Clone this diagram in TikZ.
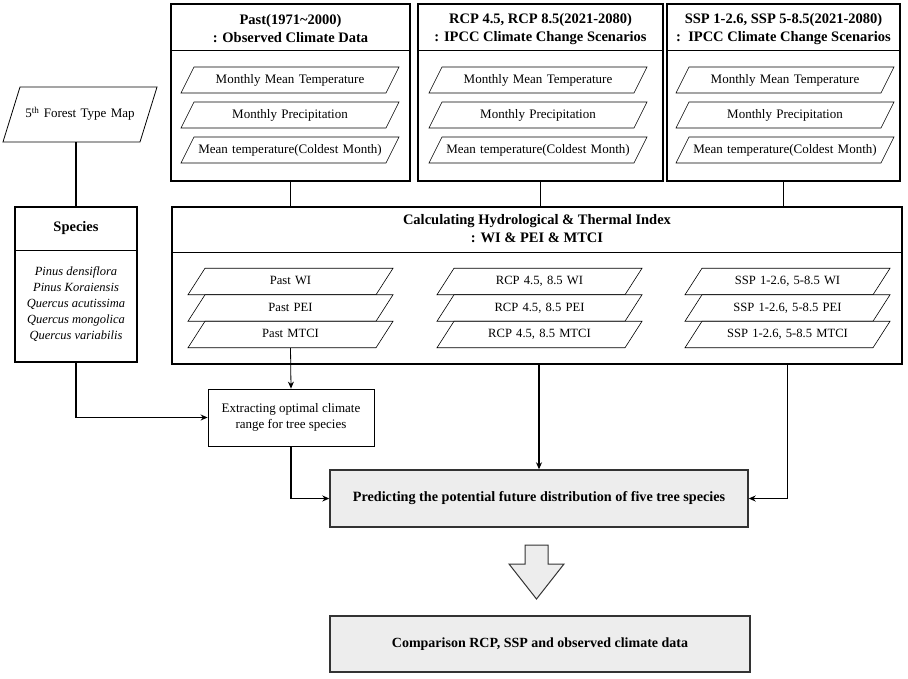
\documentclass[tikz,border=0pt]{standalone}
\usepackage{fontspec}
\setmainfont{Liberation Serif}
\usetikzlibrary{shapes.geometric,arrows.meta}

\tikzset{
  panel/.style={draw, line width=1.1pt, inner sep=0pt},
  greybox/.style={draw=black!80, fill=black!7, line width=1.4pt, inner sep=0pt, font=\fontsize{14.2}{16}\selectfont\bfseries},
  head/.style={font=\fontsize{14.5}{18}\selectfont\bfseries, align=center},
  datain/.style={trapezium, trapezium left angle=63.4, trapezium right angle=116.6, draw, line width=0.6pt, fill=white, text width=192, align=center, text height=9, text depth=3, inner xsep=0pt, inner ysep=7pt, font=\fontsize{13}{14}\selectfont},
  indexin/.style={trapezium, trapezium left angle=57.3, trapezium right angle=122.7, draw, line width=0.6pt, fill=white, text width=171, align=center, text height=9, text depth=3, inner xsep=0pt, inner ysep=7.25pt, font=\fontsize{12.6}{14}\selectfont},
  divider/.style={line width=0.6pt},
  link/.style={line width=1.2pt},
  conn/.style={line width=1.2pt, -{Stealth[length=7pt,width=6pt]}}
}

\begin{document}
\begin{tikzpicture}[x=1pt,y=-1pt]
\useasboundingbox (0,0) rectangle (908,678);

\node[panel, minimum width=239, minimum height=177] (past) at (290.5,92.5) {};
\node[panel, minimum width=245, minimum height=177] (rcp) at (540.5,92.5) {};
\node[panel, minimum width=233, minimum height=177] (ssp) at (783.5,92.5) {};
\draw[divider] (past.west |- 0,50) -- (past.east |- 0,50);
\draw[divider] (rcp.west |- 0,50) -- (rcp.east |- 0,50);
\draw[divider] (ssp.west |- 0,50) -- (ssp.east |- 0,50);
\node[head] (pasthead) at (290.5,29) {Past(1971\textasciitilde2000)\\: Observed Climate Data};
\node[head] (rcphead) at (540.5,29) {RCP 4.5, RCP 8.5(2021-2080)\\: IPCC Climate Change Scenarios};
\node[head] (ssphead) at (783.5,29) {SSP 1-2.6, SSP 5-8.5(2021-2080)\\:\ \ IPCC Climate Change Scenarios};

\node[datain] (pasttemp) at (290,80) {Monthly Mean Temperature};
\node[datain] (pastprec) at (290,115) {Monthly Precipitation};
\node[datain] (pastcold) at (290,150) {Mean temperature(Coldest Month)};
\node[datain] (rcptemp) at (538,80) {Monthly Mean Temperature};
\node[datain] (rcpprec) at (538,115) {Monthly Precipitation};
\node[datain] (rcpcold) at (538,150) {Mean temperature(Coldest Month)};
\node[datain] (ssptemp) at (785,80) {Monthly Mean Temperature};
\node[datain] (sspprec) at (785,115) {Monthly Precipitation};
\node[datain] (sspcold) at (785,150) {Mean temperature(Coldest Month)};

\node[trapezium, trapezium left angle=72.8, trapezium right angle=107.2, draw, line width=0.8pt, text width=120, align=center, text height=9, text depth=3, inner xsep=0pt, inner ysep=21.5pt, font=\fontsize{13}{14}\selectfont] (fmap) at (80,114.5) {5\textsuperscript{th} Forest Type Map};

\node[panel, line width=1.4pt, minimum width=122, minimum height=155] (species) at (76,284.5) {};
\draw[divider] (species.west |- 0,250) -- (species.east |- 0,250);
\node[head] (spehead) at (76,228) {Species};
\node[align=center, font=\fontsize{12.5}{16}\selectfont\itshape] (spelist) at (76,304) {Pinus densiflora\\Pinus Koraiensis\\Quercus acutissima\\Quercus mongolica\\Quercus variabilis};

\node[panel, minimum width=730, minimum height=157] (calc) at (537,285.5) {};
\draw[divider] (calc.west |- 0,252) -- (calc.east |- 0,252);
\node[head] (calchead) at (537,229) {Calculating Hydrological \& Thermal Index\\: WI \& PEI \& MTCI};

\node[indexin] (pastwi) at (290.5,281.5) {Past WI};
\node[indexin] (pastpei) at (290.5,308) {Past PEI};
\node[indexin] (pastmtci) at (290.5,334.5) {Past MTCI};
\node[indexin] (rcpwi) at (539.5,281.5) {RCP 4.5, 8.5 WI};
\node[indexin] (rcppei) at (539.5,308) {RCP 4.5, 8.5 PEI};
\node[indexin] (rcpmtci) at (539.5,334.5) {RCP 4.5, 8.5 MTCI};
\node[indexin] (sspwi) at (787.5,281.5) {SSP 1-2.6, 5-8.5 WI};
\node[indexin] (ssppei) at (787.5,308) {SSP 1-2.6, 5-8.5 PEI};
\node[indexin] (sspmtci) at (787.5,334.5) {SSP 1-2.6, 5-8.5 MTCI};

\node[panel, line width=0.8pt, minimum width=166, minimum height=57, align=center, font=\fontsize{13}{16}\selectfont] (extract) at (291,417.5) {Extracting optimal climate\\range for tree species};
\node[greybox, minimum width=418, minimum height=57] (predict) at (539,498.5) {Predicting the potential future distribution of five tree species};
\node[greybox, minimum width=420, minimum height=56, font=\fontsize{14}{16}\selectfont\bfseries] (compare) at (540,644) {Comparison RCP, SSP and observed climate data};

\draw[draw=black!80, fill=black!7, line width=1pt] (525,545) -- (548,545) -- (548,564) -- (564,564) -- (536.5,599) -- (509,564) -- (525,564) -- cycle;

\draw[link] (species.north |- fmap.south) -- (species.north);
\draw[link] (past.south) -- (past.south |- calc.north);
\draw[link] (rcp.south) -- (rcp.south |- calc.north);
\draw[link] (ssp.south) -- (ssp.south |- calc.north);
\draw[conn] (species.south) |- (extract.west);
\draw[conn, line width=0.8pt] (pastmtci.south) -- (extract.north);
\draw[conn] (predict.north |- calc.south) -- (predict.north);
\draw[conn] (sspmtci.south |- calc.south) |- (predict.east);
\draw[conn] (extract.south) |- (predict.west);
\end{tikzpicture}
\end{document}
